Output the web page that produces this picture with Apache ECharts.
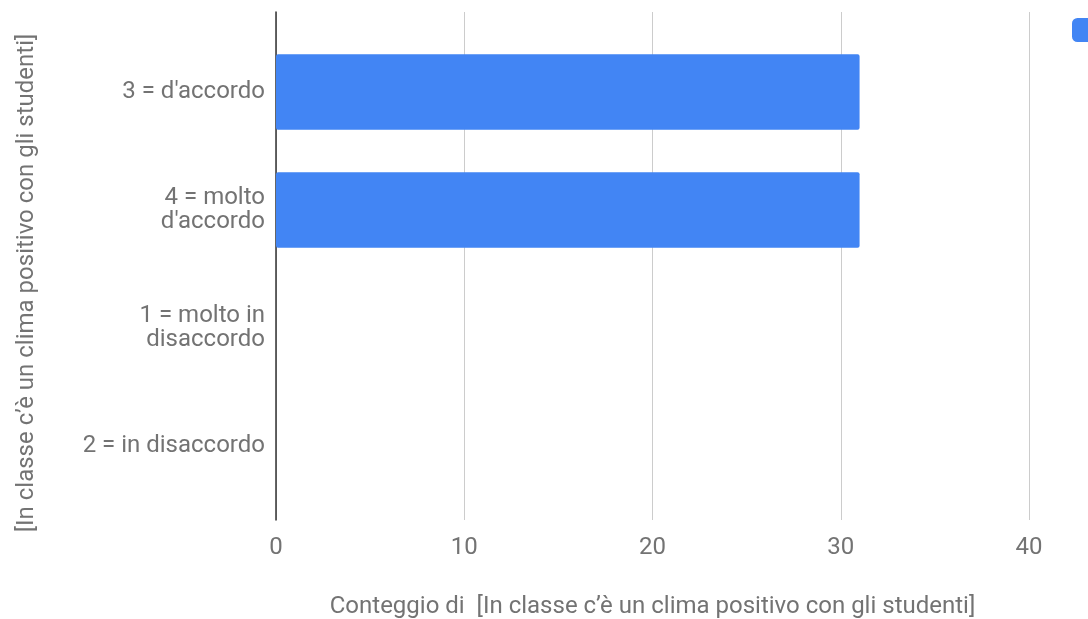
<!DOCTYPE html>
<html>
<head>
<meta charset="utf-8">
<script src="https://cdn.jsdelivr.net/npm/echarts@6/dist/echarts.min.js"></script>
<style>
  html, body { margin: 0; padding: 0; background: #fff; }
  #chart { width: 1088px; height: 619px; }
</style>
</head>
<body>
<div id="chart"></div>
<script>
// data
const categories = ['3 = d\'accordo', '4 = molto\nd\'accordo', '1 = molto in\ndisaccordo', '2 = in disaccordo'];
const counts = [31, 31, 0, 0];
const seriesName = 'Conteggio di  [In classe c’è un clima positivo con gli studenti]';
const xTicks = [0, 10, 20, 30, 40];

const textColor = '#737373';
const font = 'Roboto, "Noto Sans", sans-serif';

const chart = echarts.init(document.getElementById('chart'));
chart.setOption({
  animation: false,
  color: ['#4285F4'],
  textStyle: { fontFamily: font },
  legend: {
    left: 1067,
    top: 13,
    itemWidth: 22,
    itemHeight: 24,
    icon: 'roundRect',
    textStyle: { color: textColor, fontSize: 22 },
    data: [seriesName]
  },
  grid: [
    // grid for the bars
    { left: 276, right: 59, top: 33, height: 472, outerBoundsMode: 'none' },
    // frame grid: gridlines, tick labels, axis line
    { left: 276, right: 59, top: 12, bottom: 99, outerBoundsMode: 'none' }
  ],
  xAxis: [
    {
      gridIndex: 0, type: 'value', min: xTicks[0], max: xTicks[xTicks.length - 1], interval: 10,
      show: false
    },
    {
      gridIndex: 1, type: 'value', min: xTicks[0], max: xTicks[xTicks.length - 1], interval: 10,
      axisLine: { show: false },
      axisTick: { show: false },
      axisLabel: { color: textColor, fontSize: 24, margin: 16 },
      splitLine: { lineStyle: { color: '#cccccc', width: 1 } },
      name: seriesName,
      nameLocation: 'middle',
      nameGap: 75,
      nameTextStyle: { color: textColor, fontSize: 24 }
    }
  ],
  yAxis: [
    {
      gridIndex: 0, type: 'category', data: categories, inverse: true,
      axisLine: { show: false },
      axisTick: { show: false },
      axisLabel: { color: textColor, fontSize: 24, margin: 11, lineHeight: 24, align: 'right' }
    },
    {
      gridIndex: 1, type: 'value', min: 0, max: 1,
      axisLine: { show: true, onZero: false, lineStyle: { color: '#333', width: 1.5 } },
      axisTick: { show: false },
      axisLabel: { show: false },
      splitLine: { show: false },
      name: '[In classe c’è un clima positivo con gli studenti]',
      nameLocation: 'middle',
      nameGap: 237,
      nameTextStyle: { color: textColor, fontSize: 24, padding: [0, 0, 0, -34] }
    }
  ],
  series: [
    {
      name: seriesName,
      type: 'bar',
      xAxisIndex: 0,
      yAxisIndex: 0,
      data: counts,
      barCategoryGap: '36%',
      itemStyle: { borderRadius: 2 }
    }
  ]
});
window.addEventListener('resize', () => chart.resize());
</script>
</body>
</html>
